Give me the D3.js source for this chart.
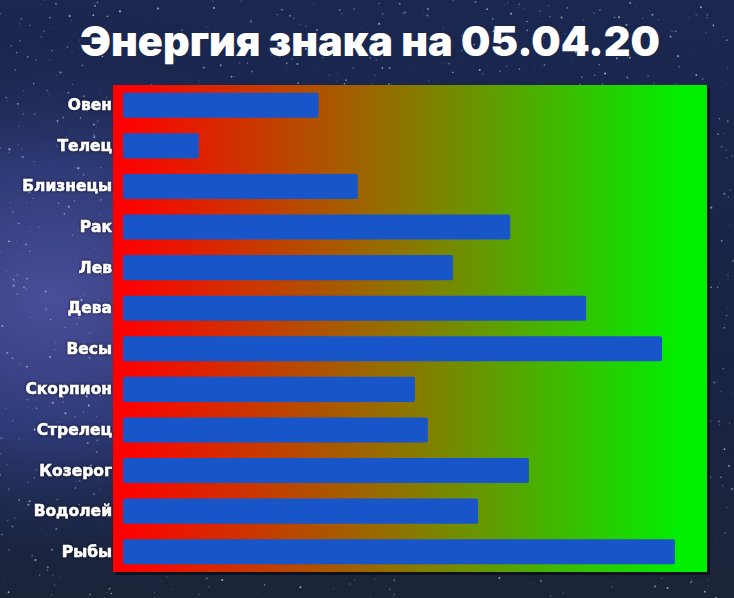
<!DOCTYPE html>
<html>
<head>
<meta charset="utf-8">
<script src="https://cdn.jsdelivr.net/npm/d3@7"></script>
<style>
  html, body { margin: 0; padding: 0; background: #141c33; }
  svg { display: block; }
</style>
</head>
<body>
<svg id="chart" width="734" height="598"></svg>
<script>
const titleText = "Энергия знака на 05.04.20";
const signs = ["Овен", "Телец", "Близнецы", "Рак", "Лев", "Дева", "Весы", "Скорпион", "Стрелец", "Козерог", "Водолей", "Рыбы"];
const energy = [33.5, 13, 40.2, 66.3, 56.5, 79.3, 92.3, 50, 52.2, 69.5, 60.8, 94.5];
const xDomain = [0, 100];

const W = 734, H = 598;
const plot = { left: 113, top: 85, right: 707, bottom: 572 };

const svg = d3.select("#chart");
const defs = svg.append("defs");

// background
const bg = defs.append("radialGradient").attr("id", "bgGlow")
  .attr("cx", "0.07").attr("cy", "0.5").attr("r", "0.5");
bg.append("stop").attr("offset", "0%").attr("stop-color", "#4a4f9a");
bg.append("stop").attr("offset", "45%").attr("stop-color", "#2e3a76");
bg.append("stop").attr("offset", "100%").attr("stop-color", "#162041").attr("stop-opacity", 0);
const bg2 = defs.append("linearGradient").attr("id", "bgBase").attr("x1", 0).attr("y1", 0).attr("x2", 0).attr("y2", 1);
bg2.append("stop").attr("offset", "0%").attr("stop-color", "#1a2750");
bg2.append("stop").attr("offset", "60%").attr("stop-color", "#182344");
bg2.append("stop").attr("offset", "100%").attr("stop-color", "#1b2438");
svg.append("rect").attr("width", W).attr("height", H).attr("fill", "url(#bgBase)");
svg.append("rect").attr("width", W).attr("height", H).attr("fill", "url(#bgGlow)");

// decorative star specks (deterministic)
let seed = 7;
function lcg() { seed = (seed * 1103515245 + 12345) % 2147483648; return seed / 2147483648; }
const stars = svg.append("g");
for (let i = 0; i < 1600; i++) {
  const sx = lcg() * W, sy = lcg() * H, sr = 0.3 + lcg() * 0.8, so = 0.15 + lcg() * 0.55;
  stars.append("circle").attr("cx", sx).attr("cy", sy).attr("r", sr).attr("fill", "#dfe6ff").attr("opacity", so);
}

// title
const title = svg.append("text")
  .attr("x", 370).attr("y", 56)
  .attr("text-anchor", "middle")
  .attr("fill", "#ffffff")
  .style("font-family", "Inter, 'Open Sans', sans-serif")
  .style("font-weight", 900)
  .style("font-size", "32px")
  .text(titleText);
const tw = title.node().getComputedTextLength();
title.style("font-size", (32 * 580 / tw).toFixed(2) + "px");

// plot background with gradient
const grad = defs.append("linearGradient").attr("id", "plotGrad")
  .attr("gradientUnits", "userSpaceOnUse")
  .attr("x1", plot.left).attr("x2", plot.right).attr("y1", 0).attr("y2", 0);
grad.append("stop").attr("offset", "1.5%").attr("stop-color", "#ff0000");
grad.append("stop").attr("offset", "50%").attr("stop-color", "#8a7800");
grad.append("stop").attr("offset", "96%").attr("stop-color", "#00f000");
grad.append("stop").attr("offset", "100%").attr("stop-color", "#00f000");

svg.append("rect")
  .attr("x", plot.left + 3).attr("y", plot.top + 3)
  .attr("width", plot.right - plot.left).attr("height", plot.bottom - plot.top)
  .attr("fill", "#0b0f18").attr("opacity", 0.85);
svg.append("rect")
  .attr("x", plot.left).attr("y", plot.top)
  .attr("width", plot.right - plot.left).attr("height", plot.bottom - plot.top)
  .attr("fill", "url(#plotGrad)");

// scales
const x = d3.scaleLinear().domain(xDomain).range([123, plot.right]);
const y = d3.scaleBand().domain(signs).range([plot.top, plot.bottom])
  .paddingInner(0.38).paddingOuter(0.19);

svg.append("g").selectAll("rect").data(signs).join("rect")
  .attr("x", x(0))
  .attr("y", d => y(d))
  .attr("width", (d, i) => x(energy[i]) - x(0))
  .attr("height", y.bandwidth())
  .attr("rx", 2)
  .attr("fill", "#1755c9");

// y axis labels
const yAxis = d3.axisLeft(y).tickSize(0).tickPadding(1);
const ag = svg.append("g").attr("transform", `translate(${plot.left},0)`).call(yAxis);
ag.select(".domain").remove();
ag.selectAll("text")
  .attr("fill", "#ffffff")
  .attr("stroke", "#ffffff")
  .attr("stroke-width", 0.6)
  .style("font-family", "'DejaVu Sans', sans-serif")
  .style("font-weight", "bold")
  .style("font-size", "15.5px")
  .style("filter", "drop-shadow(0px 0px 1.5px rgba(10,12,30,0.9))");
</script>
</body>
</html>
